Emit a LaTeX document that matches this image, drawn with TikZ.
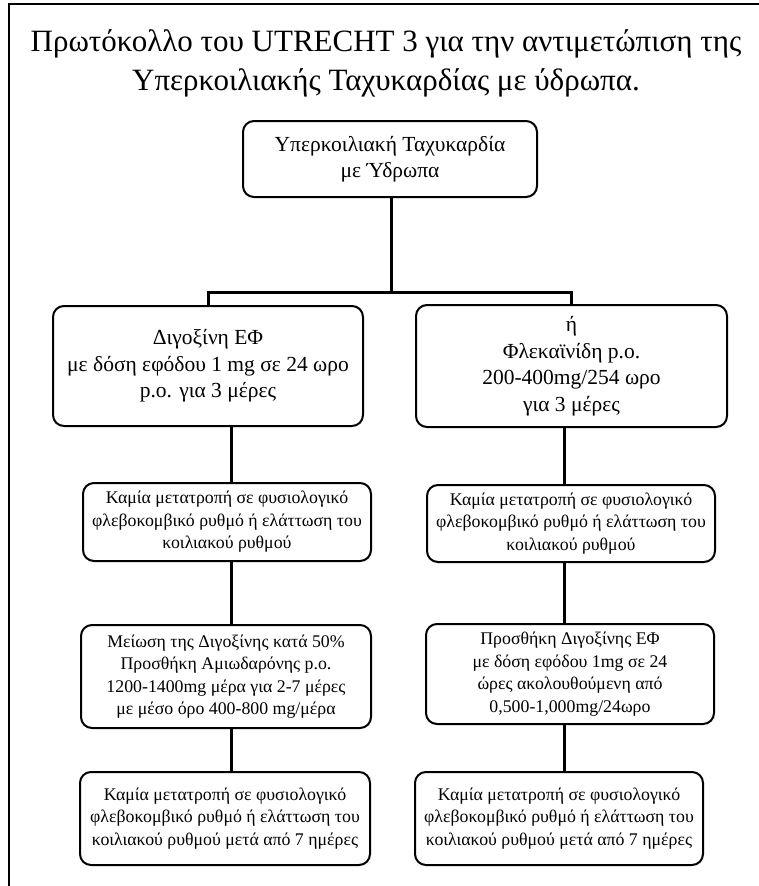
\documentclass[tikz,border=0pt]{standalone}
\usepackage{fontspec}
\setmainfont{Liberation Serif}
\usetikzlibrary{positioning}

\begin{document}
\begin{tikzpicture}[
    x=1pt, y=-1pt,
    box/.style={draw, line width=2pt, rounded corners=11pt, align=center, inner sep=0pt},
    bigbox/.style={box, font=\fontsize{21.5}{26.5}\selectfont},
    smallbox/.style={box, font=\fontsize{17.8}{22.5}\selectfont},
    link/.style={line width=3pt},
  ]
    \useasboundingbox (0,0) rectangle (758,886);
    % outer frame (cut at right and bottom)
    \draw[line width=2pt] (9,4) rectangle (770,900);
    \node[font=\fontsize{31}{39}\selectfont, align=center] (title) at (386,63)
      {Πρωτόκολλο του UTRECHT 3 για την αντιμετώπιση της\\Υπερκοιλιακής Ταχυκαρδίας με ύδρωπα.};
    % start
    \node[bigbox, minimum width=294pt, minimum height=76pt] (vt) at (390,159)
      {Υπερκοιλιακή Ταχυκαρδία\\με Ύδρωπα};
    % two branches
    \node[bigbox, minimum width=310pt, minimum height=120pt] (dig) at (208,366)
      {Διγοξίνη ΕΦ\\με δόση εφόδου 1 mg σε 24 ωρο\\p.o. για 3 μέρες};
    \node[bigbox, minimum width=311pt, minimum height=122pt] (fle) at (571.5,366)
      {ή\\Φλεκαϊνίδη p.o.\\200-400mg/254 ωρο\\για 3 μέρες};
    \node[smallbox, minimum width=288pt, minimum height=78pt] (noL1) at (227,522)
      {Καμία μετατροπή σε φυσιολογικό\\φλεβοκομβικό ρυθμό ή ελάττωση του\\κοιλιακού ρυθμού};
    \node[smallbox, minimum width=288pt, minimum height=77pt] (noR1) at (571,523.5)
      {Καμία μετατροπή σε φυσιολογικό\\φλεβοκομβικό ρυθμό ή ελάττωση του\\κοιλιακού ρυθμού};
    \node[smallbox, minimum width=290pt, minimum height=103pt] (amio) at (226,676.5)
      {Μείωση της Διγοξίνης κατά 50\%\\Προσθήκη Αμιωδαρόνης p.o.\\1200-1400mg μέρα για 2-7 μέρες\\με μέσο όρο 400-800 mg/μέρα};
    \node[smallbox, minimum width=288pt, minimum height=100pt] (adddig) at (570,674)
      {Προσθήκη Διγοξίνης ΕΦ\\με δόση εφόδου 1mg σε 24\\ώρες ακολουθούμενη από\\0,500-1,000mg/24ωρο};
    \node[smallbox, minimum width=290pt, minimum height=93pt] (noL2) at (225,818.5)
      {Καμία μετατροπή σε φυσιολογικό\\φλεβοκομβικό ρυθμό ή ελάττωση του\\κοιλιακού ρυθμού μετά από 7 ημέρες};
    \node[smallbox, minimum width=288pt, minimum height=93pt] (noR2) at (559,818.5)
      {Καμία μετατροπή σε φυσιολογικό\\φλεβοκομβικό ρυθμό ή ελάττωση του\\κοιλιακού ρυθμού μετά από 7 ημέρες};
    % connectors
    \coordinate (fork) at (391,292);
    \coordinate (lx) at (231,0);
    \coordinate (rx) at (564,0);
    \draw[link] (vt.south -| fork) -- (fork);
    \draw[link] (dig.north) |- (fork) -| (fle.north);
    \draw[link] (dig.south -| lx) -- (noL1.north -| lx);
    \draw[link] (noL1.south -| lx) -- (amio.north -| lx);
    \draw[link] (amio.south -| lx) -- (noL2.north -| lx);
    \draw[link] (fle.south -| rx) -- (noR1.north -| rx);
    \draw[link] (noR1.south -| rx) -- (adddig.north -| rx);
    \draw[link] (adddig.south -| rx) -- (noR2.north -| rx);
  \end{tikzpicture}
\end{document}
